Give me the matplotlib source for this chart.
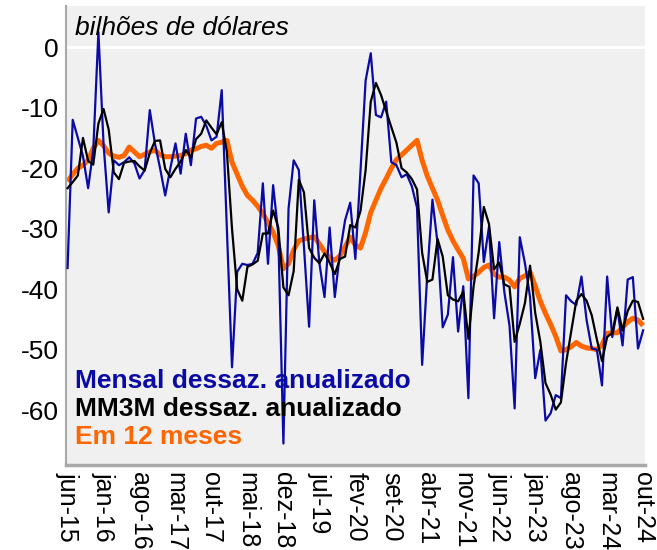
import numpy as np
import matplotlib.pyplot as plt

plt.rcParams['font.family'] = ['Liberation Sans', 'DejaVu Sans']

# monthly data, jun-15 .. out-24 (bilhões de dólares)
mensal = [-36.5, -12, -15, -18, -23.3, -17, 2.5, -16, -27.3, -18.7,
          -19.5, -19, -18.2, -19.2, -21.7, -20.3, -10.4, -15.9, -20, -24.5,
          -20, -15.9, -20.9, -14.3, -19.5, -11.8, -11.5, -13, -15.4, -14.8,
          -7.1, -30, -52.9, -37.1, -35.8, -36, -35.8, -34, -22.5, -35.8,
          -22.8, -30.8, -65.5, -26.7, -18.7, -20.3, -33, -46.2, -25.3, -35.7,
          -41.3, -29.8, -41.3, -34, -28.6, -25.7, -35, -20.5, -5.5, -1,
          -11.2, -11.6, -9, -19, -19.5, -21.5, -21, -23, -26.5, -52.5,
          -37.5, -25.2, -32.4, -46.3, -44.2, -34.7, -47, -39.5, -58, -21.2,
          -22.5, -35.5, -29.7, -44.8, -32.2, -40.5, -46, -59.7, -31.4, -35.7,
          -41.3, -54.7, -50, -61.7, -60.5, -57.5, -58, -41, -42, -42.6,
          -37.9, -45.1, -49.8, -50, -55.9, -37.9, -47.9, -43.2, -49.3, -38.4,
          -38, -49.8, -46.8]

mm3m = [-23.3, -22.3, -21.2, -15, -18.8, -19.4, -12.6, -10.2, -13.6, -20.7,
        -21.8, -19.1, -18.9, -18.8, -19.7, -20.4, -17.5, -15.5, -15.4, -20.1,
        -21.5, -20.1, -18.9, -17, -18.2, -15.2, -14.3, -12.1, -13.3, -14.4,
        -12.4, -17.3, -30, -40, -41.9, -36.3, -35.9, -35.3, -30.8, -30.8,
        -27, -29.8, -39.7, -41, -37, -21.9, -24, -33.2, -34.8, -35.7,
        -34.1, -35.6, -37.5, -35, -34.6, -29.4, -29.8, -27.1, -20.3, -9,
        -5.9, -7.9, -10.6, -13.2, -15.8, -20, -20.7, -21.8, -23.5, -34,
        -38.8, -38.4, -31.7, -34.6, -41, -41.7, -42, -40.4, -48.2, -39.6,
        -33.9, -26.4, -29.2, -36.7, -35.6, -39.2, -39.6, -48.7, -45.7, -42.3,
        -36.1, -43.9, -48.7, -55.5, -57.4, -59.9, -58.7, -52.2, -47, -41.9,
        -40.8, -41.9, -44.3, -48.3, -51.9, -47.9, -47.2, -43, -46.8, -43.6,
        -41.9, -42.1, -44.9]

em12 = [-22.2, -21, -20, -19.5, -18.7, -16.7, -15.4, -16.3, -17.5, -18,
        -18.2, -17.9, -16.5, -17.3, -18.1, -17.7, -17.3, -17, -17.8, -18.1,
        -18.1, -18, -17.9, -17.6, -17, -16.8, -16.4, -16.2, -16.7, -15.9,
        -15.7, -15.4, -19, -21, -23, -24.5, -25.3, -26.3, -27.5, -29,
        -30.6, -32.8, -36.6, -35.8, -33.5, -32, -31.7, -31.5, -31.3, -32.5,
        -33.8, -34.8, -35.2, -34.5, -33, -31.4, -32.7, -33.2, -30.6, -27.3,
        -25.3, -23.3, -21.7, -20, -18.6, -17.8, -17, -16.2, -15.4, -18.7,
        -21.3, -23.3, -25.3, -27.8, -30.2, -32, -33.5, -34.9, -38.3, -37.9,
        -37.2, -36.4, -36, -37.5, -38, -38, -38.5, -39.6, -38.2, -37.8,
        -37.2, -39.5, -42, -44, -45.8, -47.8, -50.2, -50, -49.5, -48.8,
        -49.4, -49.7, -49.8, -50, -49.2, -47.3, -47.2, -47.2, -46.3, -45.4,
        -44.8, -45.1, -46]

tick_labels = ['jun-15', 'jan-16', 'ago-16', 'mar-17', 'out-17', 'mai-18',
               'dez-18', 'jul-19', 'fev-20', 'set-20', 'abr-21', 'nov-21',
               'jun-22', 'jan-23', 'ago-23', 'mar-24', 'out-24']

x = np.arange(len(mensal))

fig = plt.figure(figsize=(6.57, 5.5), dpi=100)
ax = fig.add_axes([0.1005, 0.154, 0.8815, 0.835])
ax.set_facecolor('#f0f0f0')

ax.axhline(0, color='white', lw=2, zorder=1)
ax.plot(x, em12, color='#ff6600', lw=3.6, zorder=2, solid_capstyle='butt')
ax.plot(x, mensal, color='#0a0aa5', lw=1.6, zorder=3)
ax.plot(x, mm3m, color='black', lw=1.6, zorder=4)

ax.set_xlim(-0.3, 112.4)
ax.set_ylim(-69.1, 6.8)
ax.set_yticks([0, -10, -20, -30, -40, -50, -60])
ax.set_yticklabels(['0', '-10', '-20', '-30', '-40', '-50', '-60'], fontsize=19)
ax.set_xticks(np.arange(0, len(mensal), 7))
ax.set_xticklabels(tick_labels, rotation=270, fontsize=18)
ax.tick_params(length=0, pad=5)

for s in ['top', 'right']:
    ax.spines[s].set_visible(False)
ax.spines['left'].set_color('#a8a8a8')
ax.spines['left'].set_linewidth(1.5)
ax.spines['bottom'].set_color('#a8a8a8')
ax.spines['bottom'].set_linewidth(2.5)

ax.text(0.0155, 0.952, 'bilhões de dólares', transform=ax.transAxes,
        fontsize=19, style='italic', va='center', ha='left')
ax.text(0.0155, 0.183, 'Mensal dessaz. anualizado', transform=ax.transAxes,
        fontsize=19, fontweight='bold', color='#0a0aa5', va='center')
ax.text(0.0155, 0.122, 'MM3M dessaz. anualizado', transform=ax.transAxes,
        fontsize=19, fontweight='bold', color='black', va='center')
ax.text(0.0155, 0.061, 'Em 12 meses', transform=ax.transAxes,
        fontsize=19, fontweight='bold', color='#ff6600', va='center')

fig.savefig('out.png', dpi=100)
